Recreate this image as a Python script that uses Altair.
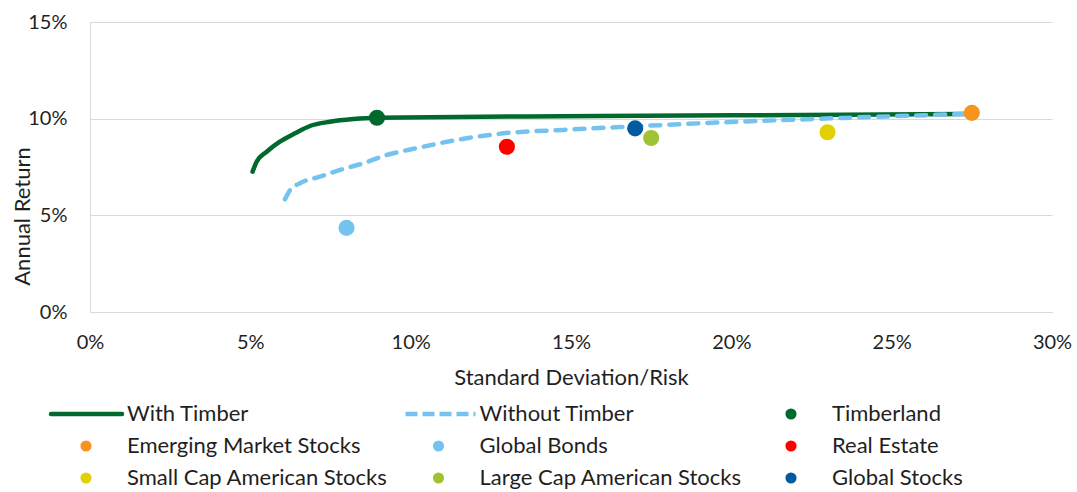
import altair as alt
import pandas as pd

FONT = "Lato"
TEXT = "#1f1f1f"

# Efficient frontier including timberland (risk, annual return)
with_risk = [0.0507, 0.0520, 0.0551, 0.0592, 0.0639, 0.0686, 0.0748, 0.0821, 0.0894, 0.1590, 0.2722, 0.2750]
with_ret = [0.0726, 0.0778, 0.0829, 0.0881, 0.0924, 0.0962, 0.0984, 0.0998, 0.1005, 0.1014, 0.1024, 0.1026]

# Efficient frontier without timberland
without_risk = [0.0608, 0.0624, 0.0655, 0.0717, 0.0780, 0.0852, 0.0925, 0.1018, 0.1143,
                0.1289, 0.1476, 0.1684, 0.1902, 0.2318, 0.2713, 0.2750]
without_ret = [0.0583, 0.0631, 0.0666, 0.0700, 0.0735, 0.0769, 0.0812, 0.0847, 0.0890,
               0.0924, 0.0942, 0.0959, 0.0976, 0.1002, 0.1024, 0.1026]

# Individual asset classes
asset_names = ["Timberland", "Emerging Market Stocks", "Global Bonds", "Real Estate",
               "Small Cap American Stocks", "Large Cap American Stocks", "Global Stocks"]
asset_risk = [0.0895, 0.2750, 0.0800, 0.1300, 0.2300, 0.1750, 0.1700]
asset_ret = [0.1005, 0.1030, 0.0435, 0.0855, 0.0930, 0.0900, 0.0950]

line_names = ["With Timber", "Without Timber"]
all_names = line_names + asset_names
all_colors = ["#006A2E", "#74C3EE", "#006A2E", "#F7941D", "#74C3EE", "#FF0000",
              "#E2D100", "#A0C431", "#005C9E"]

x_ticks = [0, 0.05, 0.10, 0.15, 0.20, 0.25, 0.30]
y_ticks = [0, 0.05, 0.10, 0.15]

lines_df = pd.concat([
    pd.DataFrame({"series": line_names[0], "risk": with_risk, "ret": with_ret,
                  "i": range(len(with_risk))}),
    pd.DataFrame({"series": line_names[1], "risk": without_risk, "ret": without_ret,
                  "i": range(len(without_risk))}),
])
assets_df = pd.DataFrame({"name": asset_names, "risk": asset_risk, "ret": asset_ret})
legend_df = pd.DataFrame({"name": all_names, "idx": range(len(all_names))})

color_scale = alt.Scale(domain=all_names, range=all_colors)

x_enc = alt.X("risk:Q", scale=alt.Scale(domain=[0, 0.3], nice=False),
              axis=alt.Axis(format=".0%", values=x_ticks, grid=False, labelFlush=False,
                            title="Standard Deviation/Risk", labelPadding=20,
                            titlePadding=15))
y_enc = alt.Y("ret:Q", scale=alt.Scale(domain=[0, 0.15], nice=False),
              axis=alt.Axis(format=".0%", values=y_ticks, grid=True, labelFlush=False,
                            title="Annual Return", labelPadding=23,
                            titleX=-68, titleY=194, titleBaseline="middle"))

base_lines = alt.Chart(lines_df)
solid = base_lines.transform_filter(alt.datum.series == "With Timber").mark_line(
    strokeWidth=4.5, interpolate="monotone", strokeCap="round"
).encode(x=x_enc, y=y_enc, order="i:Q",
         color=alt.Color("series:N", scale=color_scale, legend=None))

dashed = base_lines.transform_filter(alt.datum.series == "Without Timber").mark_line(
    strokeWidth=4.5, interpolate="monotone", strokeCap="round", strokeDash=[10, 9]
).encode(x=x_enc, y=y_enc, order="i:Q",
         color=alt.Color("series:N", scale=color_scale, legend=None))

points = alt.Chart(assets_df).mark_circle(size=260, opacity=1).encode(
    x=x_enc, y=y_enc,
    color=alt.Color("name:N", scale=color_scale, legend=None),
)

main = alt.layer(solid, dashed, points)

# Legend laid out in a 3-column grid below the plot
leg_x = alt.X("col:Q", scale=alt.Scale(domain=[0, 2], range=[37, 742]), axis=None)
leg_y = alt.Y("row:Q", scale=alt.Scale(domain=[0, 2], range=[392, 456]), axis=None)
leg_base = alt.Chart(legend_df).transform_calculate(
    col="datum.idx % 3", row="floor(datum.idx / 3)"
)

leg_text = leg_base.mark_text(align="left", baseline="middle", font=FONT,
                              fontSize=22, color=TEXT).encode(
    x=leg_x, y=leg_y, text="name:N")

leg_dots = leg_base.transform_filter(alt.datum.idx >= 2).mark_circle(
    size=125, opacity=1, xOffset=-41).encode(
    x=leg_x, y=leg_y, color=alt.Color("name:N", scale=color_scale, legend=None))

leg_solid = leg_base.transform_filter(alt.datum.idx == 0).mark_rule(
    strokeWidth=4.5, xOffset=-76, x2Offset=-5, strokeCap="round").encode(
    x=leg_x, x2="col:Q", y=leg_y,
    color=alt.Color("name:N", scale=color_scale, legend=None))

leg_dash = leg_base.transform_filter(alt.datum.idx == 1).mark_rule(
    strokeWidth=4.5, xOffset=-74, x2Offset=-4, strokeDash=[12, 5]).encode(
    x=leg_x, x2="col:Q", y=leg_y,
    color=alt.Color("name:N", scale=color_scale, legend=None))

legend = alt.layer(leg_solid, leg_dash, leg_dots, leg_text)

chart = alt.layer(main, legend).resolve_scale(
    x="independent", y="independent"
).properties(
    width=962, height=290,
    padding={"left": 90, "top": 22, "right": 25, "bottom": 180},
    autosize=alt.AutoSizeParams(type="none"),
).configure_view(stroke="transparent").configure_axis(
    labelFont=FONT, labelFontSize=20, labelColor=TEXT,
    titleFont=FONT, titleFontSize=22, titleFontWeight="normal", titleColor=TEXT,
    domainColor="#D9D9D9", gridColor="#D9D9D9", ticks=False, tickSize=0,
)

chart.save("out.html", embed_options={"renderer": "svg", "actions": False})
